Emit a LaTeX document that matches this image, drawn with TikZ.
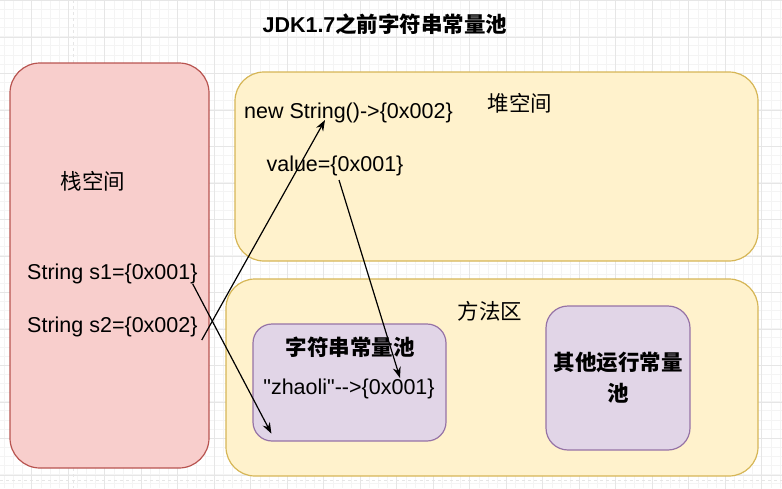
\documentclass[tikz,border=0pt]{standalone}
\usepackage{fontspec}
\setmainfont{Liberation Sans}
\newfontfamily\cjk{Noto Sans CJK SC}
\usetikzlibrary{arrows.meta}
\definecolor{stackfill}{HTML}{F8CECC}
\definecolor{stackline}{HTML}{B85450}
\definecolor{heapfill}{HTML}{FFF2CC}
\definecolor{heapline}{HTML}{D6B656}
\definecolor{poolfill}{HTML}{E1D5E7}
\definecolor{poolline}{HTML}{9673A6}
\definecolor{gridminor}{HTML}{F4F4F4}
\definecolor{gridmajor}{HTML}{E6E6E6}

\begin{document}
\begin{tikzpicture}[
        x=1pt, y=-1pt,
        font=\fontsize{21.5}{31}\selectfont,
        area/.style={draw, line width=1.2pt, inner sep=0pt, align=center},
        stackbox/.style={area, draw=stackline, fill=stackfill, rounded corners=30pt},
        heapbox/.style={area, draw=heapline, fill=heapfill, rounded corners=29pt},
        poolbox/.style={area, draw=poolline, fill=poolfill, rounded corners=#1},
        txt/.style={inner sep=0pt},
        arr/.style={-{Stealth[length=11pt,width=8pt]}, line width=1.2pt}
    ]
        \useasboundingbox (0,0) rectangle (782,488);
        % background grid
        \draw[gridminor, line width=0.5pt, xshift=4.3pt] (-4.3,0) grid[step=9.125pt] (782,488);
        \draw[gridmajor, line width=0.6pt, xshift=-4.8pt, yshift=-0.5pt] (4.8,0) grid[step=36.5pt] (790,488);
        \draw[gridmajor, dashed, line width=0.6pt] (73,0) -- (73,488);
        \draw[gridmajor, dashed, line width=0.6pt] (0,480) -- (782,480);

        \node[font=\fontsize{21.5}{25}\selectfont\bfseries] (title) at (385,24) {JDK1.7{\cjk 之前字符串常量池}};

        \node[stackbox, minimum width=199pt, minimum height=405pt] (stack) at (109.5,265.5) {};
        \node[heapbox, minimum width=523pt, minimum height=189pt] (heap) at (496.5,166.5) {};
        \node[heapbox, minimum width=532pt, minimum height=197pt] (method) at (492,377.5) {};
        \node[poolbox=19pt, minimum width=193pt, minimum height=117pt] (pool) at (349.5,382.5) {};
        \node[poolbox=22pt, minimum width=144pt, minimum height=144pt] (other) at (618,378) {\bfseries\cjk 其他运行常量\\\bfseries\cjk 池};

        \node[txt] (stacklbl) at (93,181) {\cjk 栈空间};
        \node[txt] (heaplbl) at (520,103) {\cjk 堆空间};
        \node[txt] (methodlbl) at (490,311) {\cjk 方法区};
        \node[txt] (pooltitle) at (350,347) {\bfseries\cjk 字符串常量池};

        \node[txt, anchor=west] (s1) at (27,274) {String s1=\{0x001\}};
        \node[txt, anchor=west] (s2) at (27,327) {String s2=\{0x002\}};
        \node[txt, anchor=west] (newstr) at (244,113) {new String()->\{0x002\}};
        \node[txt] (value) at (335,166) {value=\{0x001\}};
        \node[txt] (zhaoli) at (349,389) {\textquotedbl zhaoli\textquotedbl-{}->\{0x001\}};

        \draw[arr] ([shift={(-5,10)}]s1.east) -- ([shift={(19,-8)}]pool.south west);
        \draw[arr] ([shift={(4,13)}]s2.east) -- ([shift={(81,7)}]newstr.west);
        \draw[arr] ([shift={(4,14)}]value.center) -- ([shift={(51,-11)}]zhaoli.center);
    \end{tikzpicture}
\end{document}
